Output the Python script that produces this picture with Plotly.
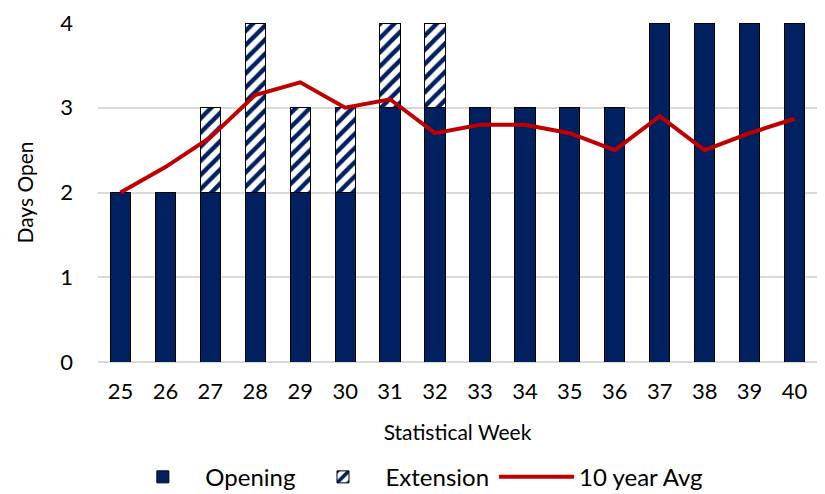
import plotly.graph_objects as go

weeks = [str(w) for w in range(25, 41)]
opening = [2, 2, 2, 2, 2, 2, 3, 3, 3, 3, 3, 3, 4, 4, 4, 4]
extension = [0, 0, 1, 2, 1, 1, 1, 1, 0, 0, 0, 0, 0, 0, 0, 0]
avg10 = [2.0, 2.3, 2.65, 3.15, 3.3, 3.0, 3.1, 2.7, 2.8, 2.8, 2.7, 2.5, 2.9, 2.5, 2.7, 2.87]

navy = "#002060"
red = "#C00000"
font = "Lato"

fig = go.Figure()
fig.add_trace(go.Bar(
    x=weeks, y=opening, name="Opening",
    marker=dict(color=navy, line=dict(color="black", width=1)),
))
fig.add_trace(go.Bar(
    x=weeks, y=extension, name="Extension",
    marker=dict(color="white", line=dict(color="black", width=1),
                pattern=dict(shape="/", fgcolor=navy, fgopacity=1, bgcolor="white",
                             size=10, solidity=0.45)),
))
fig.add_trace(go.Scatter(
    x=weeks, y=avg10, name="10 year Avg", mode="lines",
    line=dict(color=red, width=4),
))

fig.update_layout(
    width=817, height=486,
    barmode="stack", bargap=0.55,
    plot_bgcolor="white", paper_bgcolor="white",
    margin=dict(l=90, r=8, t=15, b=132, autoexpand=False),
    font=dict(family=font, color="black", size=22),
    showlegend=True,
    legend=dict(orientation="h", x=0.44, xanchor="center", y=-0.34, yanchor="middle",
                font=dict(size=24), traceorder="normal", itemwidth=75),
)
fig.update_xaxes(
    title=dict(text="Statistical Week", font=dict(size=21), standoff=22),
    tickfont=dict(size=22), showgrid=False, showline=False, ticks="",
    ticklabelstandoff=14, automargin=False,
)
fig.update_yaxes(
    title=dict(text="Days Open", font=dict(size=21), standoff=20),
    range=[0, 4], dtick=1, tickfont=dict(size=22),
    showgrid=True, gridcolor="#d9d9d9", gridwidth=1.5,
    zeroline=True, zerolinecolor="#d9d9d9", zerolinewidth=1.5,
    showline=False, ticks="", ticklabelstandoff=24, automargin=False,
    ticklabeloverflow="allow",
)

fig.write_html("out.html")
